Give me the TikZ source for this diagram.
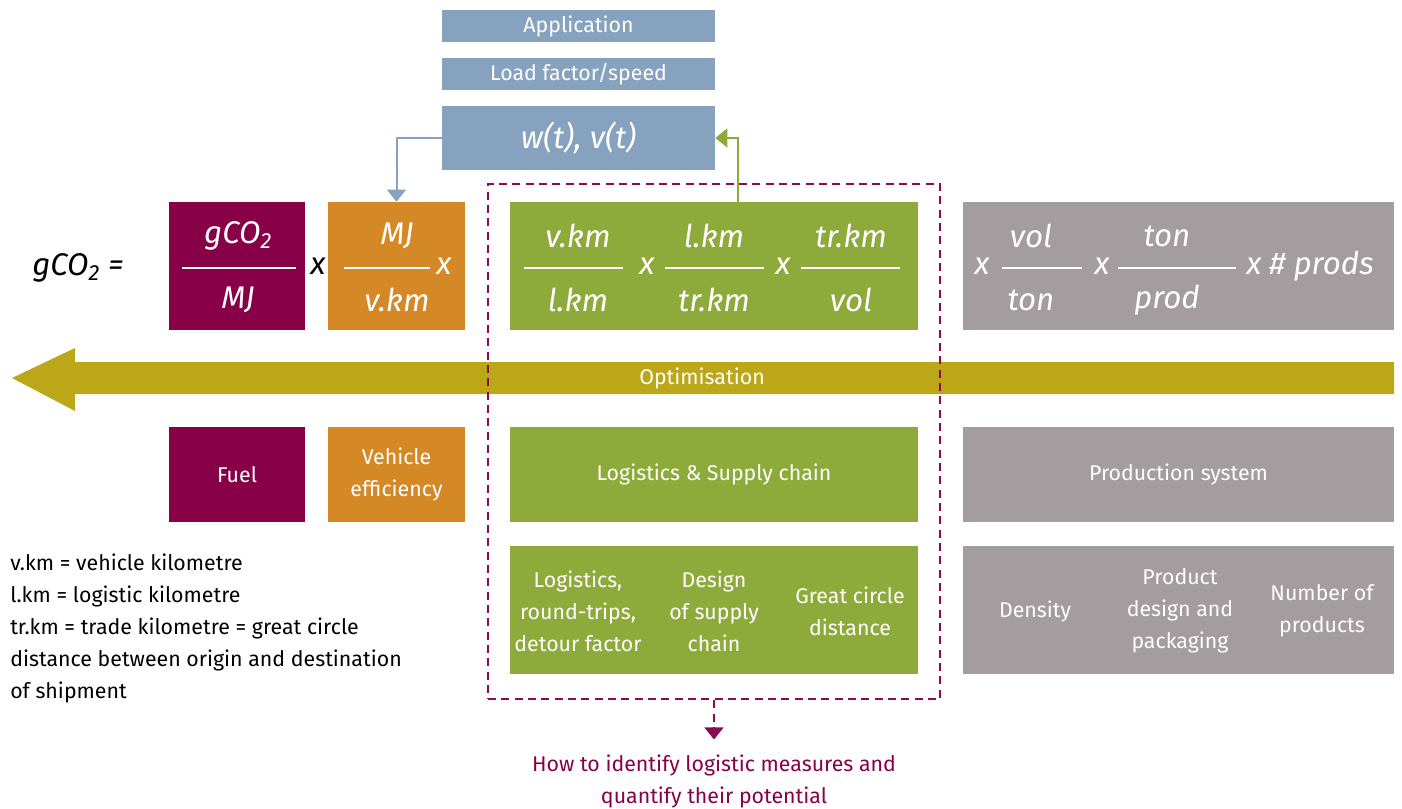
\documentclass[tikz,border=0pt]{standalone}
\usepackage{fontspec}
\setmainfont{Fira Sans}
\usetikzlibrary{arrows.meta}
\definecolor{cmaroon}{HTML}{870048}
\definecolor{corange}{HTML}{D58826}
\definecolor{cgreen}{HTML}{8EAA3A}
\definecolor{cgray}{HTML}{A39D9F}
\definecolor{cblue}{HTML}{87A2BE}
\definecolor{colive}{HTML}{BBA718}
\definecolor{cdash}{HTML}{8B0A50}
\begin{document}
\begin{tikzpicture}[x=0.75pt,y=-0.75pt,
  box/.style={rectangle, inner sep=0pt, text=white, align=center, font=\fontsize{16}{24}\selectfont},
  lbl/.style={inner sep=0pt, text=white, align=center, font=\fontsize{16}{24}\selectfont},
  frac/.style={inner sep=0pt, text=white, font=\fontsize{23.5}{24}\selectfont\itshape},
  fline/.style={white, line width=1.5pt},
  note/.style={inner sep=0pt, anchor=west, align=left, font=\fontsize{16}{24}\selectfont},
  dashst/.style={cdash, line width=1.8pt, dash pattern=on 6pt off 4pt},
  tip/.style={-{Triangle[width=14pt,length=9pt]}}]
\useasboundingbox (0,0) rectangle (1402,809);
% top blue boxes
\node[box, fill=cblue, minimum width=204.75pt, minimum height=24pt] (app) at (578.5,26) {Application};
\node[box, fill=cblue, minimum width=204.75pt, minimum height=24pt] (load) at (578.5,74) {Load factor/speed};
\node[box, fill=cblue, minimum width=204.75pt, minimum height=48pt, font=\fontsize{23.5}{24}\selectfont\itshape] (wv) at (578.5,138) {w(t), v(t)};
% row 1 boxes
\node[box, fill=cmaroon, minimum width=102pt, minimum height=96pt] (fuelf) at (237,266) {};
\node[box, fill=corange, minimum width=102.75pt, minimum height=96pt] (vehf) at (396.5,266) {};
\node[box, fill=cgreen, minimum width=306pt, minimum height=96pt] (logf) at (714,266) {};
\node[box, fill=cgray, minimum width=323.25pt, minimum height=96pt] (prodf) at (1178.5,266) {};
% gCO2 =
\node[inner sep=0pt, font=\fontsize{23.5}{24}\selectfont\itshape] (lhs) at (78,268) {gCO\textsubscript{2} =};
% maroon fraction
\node[frac] (n1) at (238,236) {gCO\textsubscript{2}};
\node[frac] (d1) at (238,300) {MJ};
\draw[fline] (182,268) -- (296,268);
\node[inner sep=0pt, font=\fontsize{23.5}{24}\selectfont\itshape] (x1) at (318,266) {x};
% orange fraction
\node[frac] (n2) at (397,236) {MJ};
\node[frac] (d2) at (397,300) {v.km};
\draw[fline] (344,268) -- (430,268);
\node[frac] (x2) at (444,266) {x};
% green fractions
\node[frac] (n3) at (578,236) {v.km};
\node[frac] (d3) at (578,300) {l.km};
\draw[fline] (524,268) -- (623,268);
\node[frac] (x3) at (647,266) {x};
\node[frac] (n4) at (714,236) {l.km};
\node[frac] (d4) at (714,300) {tr.km};
\draw[fline] (665,268) -- (764,268);
\node[frac] (x4) at (783,266) {x};
\node[frac] (n5) at (851,236) {tr.km};
\node[frac] (d5) at (851,300) {vol};
\draw[fline] (801,268) -- (900,268);
% gray fractions
\node[frac] (x5) at (982,266) {x};
\node[frac] (n6) at (1031,236) {vol};
\node[frac] (d6) at (1031,300) {ton};
\draw[fline] (1002,268) -- (1082,268);
\node[frac] (x6) at (1102,266) {x};
\node[frac] (n7) at (1167,236) {ton};
\node[frac] (d7) at (1167,300) {prod};
\draw[fline] (1118,268) -- (1236,268);
\node[frac, anchor=west] (x7) at (1246,266) {x \# prods};
% optimisation arrow
\fill[colive] (1394,362) -- (75,362) -- (75,348) -- (12,378) -- (75,411) -- (75,394) -- (1394,394) -- cycle;
\node[lbl] (opt) at (702,378) {Optimisation};
% row 2
\node[box, fill=cmaroon, minimum width=102pt, minimum height=71.25pt] (fuel) at (237,474.5) {Fuel};
\node[box, fill=corange, minimum width=102.75pt, minimum height=71.25pt] (veh) at (396.5,474.5) {Vehicle\\efficiency};
\node[box, fill=cgreen, minimum width=306pt, minimum height=71.25pt] (log) at (714,474.5) {Logistics \& Supply chain};
\node[box, fill=cgray, minimum width=323.25pt, minimum height=71.25pt] (prod) at (1178.5,474.5) {Production system};
% row 3
\node[box, fill=cgreen, minimum width=306pt, minimum height=96pt] (logd) at (714,610) {};
\node[box, fill=cgray, minimum width=323.25pt, minimum height=96pt] (prodd) at (1178.5,610) {};
\node[lbl] (l1) at (578,611) {Logistics,\\round-trips,\\detour factor};
\node[lbl] (l2) at (714,611) {Design\\of supply\\chain};
\node[lbl] (l3) at (850,611) {Great circle\\distance};
\node[lbl] (p1) at (1035,611) {Density};
\node[lbl] (p2) at (1180,611) {Product\\design and\\packaging};
\node[lbl] (p3) at (1322,611) {Number of\\products};
% notes
\node[note] (notes) at (10,628) {v.km = vehicle kilometre\\l.km = logistic kilometre\\tr.km = trade kilometre = great circle\\distance between origin and destination\\of shipment};
% dashed box
\node[draw, dashst, minimum width=339pt, minimum height=386.25pt, inner sep=0pt] (dbox) at (714,441.5) {};
\node[inner sep=0pt, text=cmaroon, align=center, font=\fontsize{16}{24}\selectfont] (q) at (714,781) {How to identify logistic measures and\\quantify their potential};
\draw[dashst, tip, shorten >=11pt] (dbox.south) -- (q.north);
% connectors
\draw[cblue, line width=1.5pt, tip] (wv.west) -| (vehf.north);
\draw[cgreen, line width=1.5pt, tip] ([xshift=18pt]logf.north) |- (wv.east);
\end{tikzpicture}
\end{document}
